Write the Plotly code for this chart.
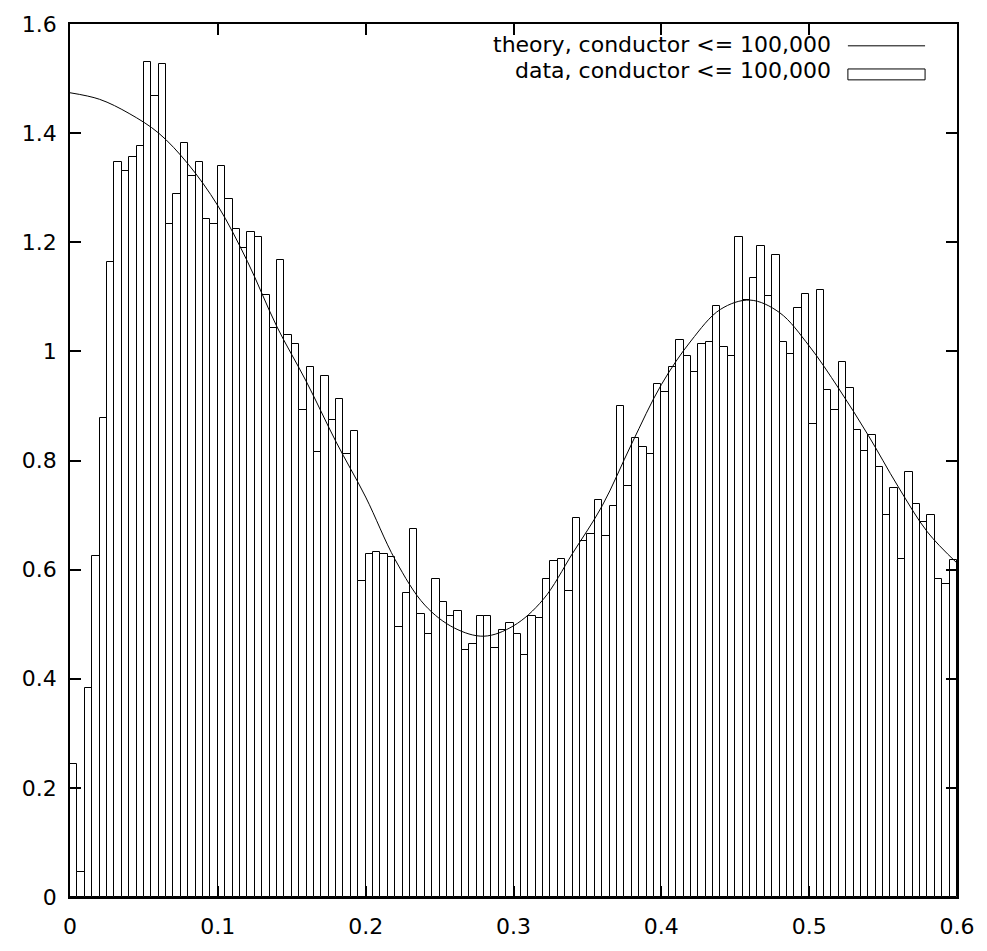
import plotly.graph_objects as go

# Histogram of normalised spacings, bins of width 0.005 on [0, 0.6]
bin_width = 0.005
bin_left = [round(i * bin_width, 3) for i in range(120)]
data_density = [
    0.243, 0.045, 0.383, 0.625, 0.877, 1.163, 1.347, 1.331, 1.357, 1.377,
    1.531, 1.468, 1.527, 1.234, 1.289, 1.381, 1.322, 1.347, 1.243, 1.234,
    1.339, 1.280, 1.225, 1.189, 1.218, 1.209, 1.104, 1.042, 1.167, 1.030,
    1.013, 0.892, 0.971, 0.816, 0.955, 0.875, 0.913, 0.812, 0.854, 0.580,
    0.628, 0.632, 0.628, 0.624, 0.494, 0.557, 0.674, 0.519, 0.482, 0.582,
    0.540, 0.515, 0.524, 0.452, 0.464, 0.515, 0.515, 0.456, 0.490, 0.503,
    0.482, 0.444, 0.515, 0.511, 0.582, 0.615, 0.619, 0.561, 0.695, 0.653,
    0.665, 0.728, 0.661, 0.716, 0.900, 0.753, 0.841, 0.825, 0.812, 0.941,
    0.925, 0.971, 1.021, 0.991, 0.962, 1.013, 1.017, 1.084, 1.008, 0.992,
    1.209, 1.095, 1.134, 1.193, 1.101, 1.176, 1.017, 0.996, 1.080, 1.105,
    0.867, 1.113, 0.929, 0.892, 0.980, 0.932, 0.856, 0.818, 0.846, 0.788,
    0.701, 0.750, 0.620, 0.779, 0.721, 0.687, 0.701, 0.583, 0.574, 0.617,
]

# Theoretical density sampled along the curve
theory_x = [0.00, 0.02, 0.04, 0.06, 0.08, 0.10, 0.12, 0.14, 0.16, 0.18,
            0.20, 0.22, 0.24, 0.26, 0.28, 0.30, 0.32, 0.34, 0.36, 0.38,
            0.40, 0.42, 0.44, 0.46, 0.48, 0.50, 0.52, 0.54, 0.56, 0.58, 0.60]
theory_y = [1.474, 1.462, 1.436, 1.400, 1.343, 1.267, 1.165, 1.045, 0.944, 0.834,
            0.733, 0.618, 0.535, 0.493, 0.478, 0.497, 0.545, 0.630, 0.717, 0.831,
            0.939, 1.019, 1.077, 1.094, 1.071, 1.010, 0.932, 0.846, 0.753, 0.669, 0.612]

x_ticks = [0, 0.1, 0.2, 0.3, 0.4, 0.5, 0.6]
x_tick_text = ["0", "0.1", "0.2", "0.3", "0.4", "0.5", "0.6"]
y_ticks = [0, 0.2, 0.4, 0.6, 0.8, 1.0, 1.2, 1.4, 1.6]
y_tick_text = ["0", "0.2", "0.4", "0.6", "0.8", "1", "1.2", "1.4", "1.6"]

legend_theory = "theory, conductor <= 100,000"
legend_data = "data, conductor <= 100,000"

FONT = "DejaVu Sans, Liberation Sans, Arial, sans-serif"
FONT_SIZE = 22

fig = go.Figure()

fig.add_trace(go.Bar(
    x=bin_left, y=data_density, width=bin_width, offset=0,
    marker=dict(color="white", line=dict(color="black", width=1)),
    showlegend=False,
))

fig.add_trace(go.Scatter(
    x=theory_x, y=theory_y, mode="lines",
    line=dict(color="black", width=1, shape="spline", smoothing=1.0),
    showlegend=False,
))

# Key in the upper right: right-justified labels with samples after them
fig.add_annotation(xref="paper", yref="paper", x=0.860, y=0.977,
                   text=legend_theory, showarrow=False, xanchor="right",
                   yanchor="middle", font=dict(family=FONT, size=FONT_SIZE, color="black"))
fig.add_annotation(xref="paper", yref="paper", x=0.860, y=0.947,
                   text=legend_data, showarrow=False, xanchor="right",
                   yanchor="middle", font=dict(family=FONT, size=FONT_SIZE, color="black"))
fig.add_shape(type="line", xref="paper", yref="paper",
              x0=0.877, x1=0.964, y0=0.975, y1=0.975,
              line=dict(color="black", width=1))
fig.add_shape(type="rect", xref="paper", yref="paper",
              x0=0.877, x1=0.964, y0=0.936, y1=0.9485,
              line=dict(color="black", width=1), fillcolor="white")

axis_common = dict(
    showline=True, linecolor="black", linewidth=1.5, mirror="ticks",
    ticks="inside", ticklen=11, tickwidth=1.5, tickcolor="black",
    showgrid=False, zeroline=False,
    tickfont=dict(family=FONT, size=FONT_SIZE, color="black"),
)

fig.update_xaxes(range=[0, 0.6], tickvals=x_ticks, ticktext=x_tick_text,
                 ticklabelstandoff=9, **axis_common)
fig.update_yaxes(range=[0, 1.6], tickvals=y_ticks, ticktext=y_tick_text,
                 ticklabelstandoff=7, **axis_common)

fig.update_layout(
    width=987, height=951,
    margin=dict(l=70, r=29, t=16, b=45, pad=0),
    paper_bgcolor="white", plot_bgcolor="white",
    bargap=0, showlegend=False,
)

fig.write_html("out.html")
